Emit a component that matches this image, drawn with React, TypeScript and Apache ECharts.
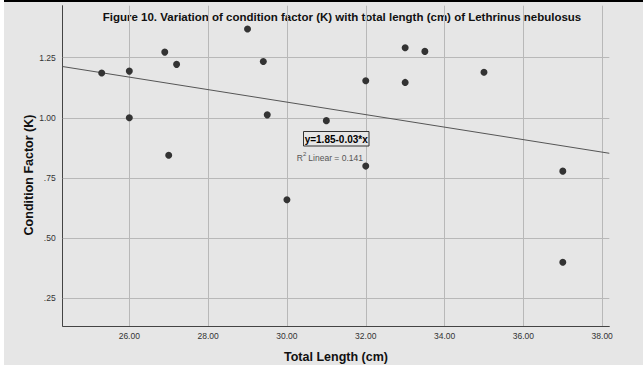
import React, { useEffect, useRef } from "react";
import * as echarts from "echarts";

const lengthCm = [25.3, 26.0, 26.0, 26.9, 27.2, 27.0, 29.0, 29.4, 29.5, 30.0, 31.0, 32.0, 32.0, 33.0, 33.0, 33.5, 35.0, 37.0, 37.0];
const conditionK = [1.186, 1.194, 1.0, 1.273, 1.222, 0.844, 1.369, 1.234, 1.012, 0.659, 0.988, 1.154, 0.799, 1.291, 1.147, 1.276, 1.189, 0.778, 0.399];
const xTickValues = [26, 28, 30, 32, 34, 36, 38];
const yTickValues = [0.25, 0.5, 0.75, 1.0, 1.25];
const fitIntercept = 1.845;
const fitSlope = -0.026;
const xRange = [24.31, 38.18];
const yRange = [0.134, 1.466];
const titleText = "Figure 10. Variation of condition factor (K) with total length (cm) of Lethrinus nebulosus";
const xTitle = "Total Length (cm)";
const yTitle = "Condition Factor (K)";
const equationText = "y=1.85-0.03*x";
const r2Text = " Linear = 0.141";

export default function App() {
  const ref = useRef<HTMLDivElement>(null);
  useEffect(() => {
    document.body.style.margin = "0";
    const chart = echarts.init(ref.current as HTMLDivElement, null, { renderer: "svg" });
    const font = '"Liberation Sans", Arial, sans-serif';
    const points = lengthCm.map((x, i) => [x, conditionK[i]]);
    const fitLine = xRange.map((x) => [x, fitIntercept + fitSlope * x]);
    const gridLines = [
      ...xTickValues.map((v) => ({ xAxis: v })),
      ...yTickValues.map((v) => ({ yAxis: v })),
    ];
    chart.setOption({
      animation: false,
      backgroundColor: "#e6e6e6",
      grid: { left: 62.7, right: 33.7, top: 5.7, bottom: 39 },
      xAxis: {
        type: "value",
        min: xRange[0],
        max: xRange[1],
        axisLine: { show: true, onZero: false, lineStyle: { color: "#444", width: 1 } },
        axisTick: { show: false },
        splitLine: { show: false },
        axisLabel: {
          customValues: xTickValues,
          formatter: (v: number) => v.toFixed(2),
          color: "#333",
          fontSize: 8.5,
          fontFamily: font,
          margin: 5,
        },
      },
      yAxis: {
        type: "value",
        min: yRange[0],
        max: yRange[1],
        axisLine: { show: true, onZero: false, lineStyle: { color: "#444", width: 1 } },
        axisTick: { show: false },
        splitLine: { show: false },
        axisLabel: {
          customValues: yTickValues,
          formatter: (v: number) => (v >= 1 ? v.toFixed(2) : v.toFixed(2).replace(/^0/, "")),
          color: "#333",
          fontSize: 8.5,
          fontFamily: font,
          margin: 7,
        },
      },
      series: [
        {
          type: "scatter",
          data: [],
          z: 1,
          silent: true,
          markLine: {
            silent: true,
            z: 1,
            symbol: "none",
            label: { show: false },
            lineStyle: { color: "#b8b8b8", width: 1, type: "solid" },
            data: gridLines,
          },
        },
        {
          type: "line",
          data: fitLine,
          symbol: "none",
          z: 3,
          silent: true,
          lineStyle: { color: "#555", width: 1 },
        },
        {
          type: "scatter",
          data: points,
          symbolSize: 7,
          z: 4,
          itemStyle: { color: "#333", opacity: 1 },
        },
      ],
      graphic: [
        { type: "rect", shape: { x: 0, y: 0, width: 643, height: 2 }, style: { fill: "#000" }, z: 0 },
        { type: "rect", shape: { x: 0, y: 0, width: 4, height: 365 }, style: { fill: "#fff" }, z: 0 },
        {
          type: "text",
          x: 342,
          y: 17,
          style: { text: titleText, fill: "#111", font: `bold 11.5px ${font}`, textAlign: "center", textVerticalAlign: "middle" },
        },
        {
          type: "text",
          x: 336,
          y: 357,
          style: { text: xTitle, fill: "#111", font: `bold 12.5px ${font}`, textAlign: "center", textVerticalAlign: "middle" },
        },
        {
          type: "text",
          x: 29,
          y: 175,
          rotation: Math.PI / 2,
          style: { text: yTitle, fill: "#111", font: `bold 12.5px ${font}`, textAlign: "center", textVerticalAlign: "middle" },
        },
        {
          type: "rect",
          shape: { x: 303.5, y: 131.5, width: 65.5, height: 14.5 },
          style: { fill: "#e6e6e6", stroke: "#333", lineWidth: 1 },
          z: 10,
        },
        {
          type: "text",
          x: 336.2,
          y: 139,
          z: 11,
          style: { text: equationText, fill: "#000", font: `bold 10px ${font}`, textAlign: "center", textVerticalAlign: "middle" },
        },
        {
          type: "text",
          x: 296.7,
          y: 157.5,
          z: 11,
          style: { text: "R", fill: "#555", font: `8.5px ${font}`, textAlign: "left", textVerticalAlign: "middle" },
        },
        {
          type: "text",
          x: 303,
          y: 153.5,
          z: 11,
          style: { text: "2", fill: "#555", font: `6px ${font}`, textAlign: "left", textVerticalAlign: "middle" },
        },
        {
          type: "text",
          x: 306,
          y: 157.5,
          z: 11,
          style: { text: r2Text, fill: "#555", font: `8.5px ${font}`, textAlign: "left", textVerticalAlign: "middle" },
        },
      ],
    });
    return () => chart.dispose();
  }, []);
  return <div ref={ref} style={{ width: 643, height: 365 }} />;
}
